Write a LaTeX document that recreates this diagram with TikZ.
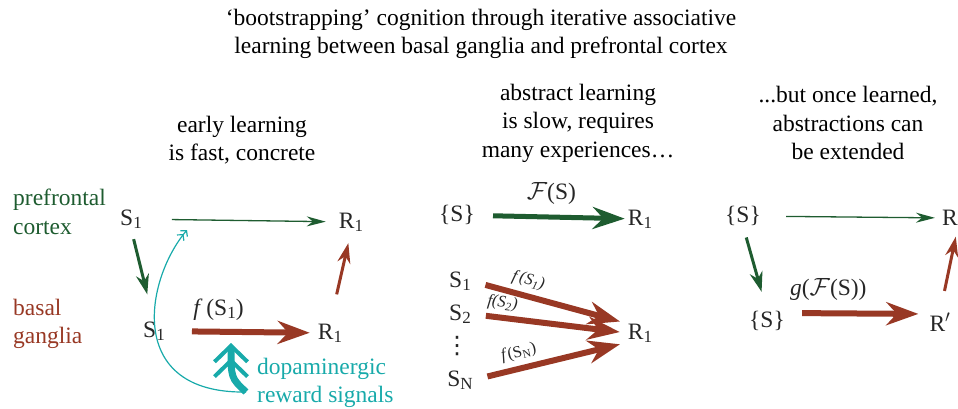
\documentclass[tikz,border=0pt]{standalone}
\usepackage{fontspec}
\setmainfont{Liberation Serif}
\newfontfamily\symfont{DejaVu Sans}
\usetikzlibrary{arrows.meta}
\usetikzlibrary{scopes}

\definecolor{pfcgreen}{RGB}{30,92,48}
\definecolor{bgred}{RGB}{152,56,36}
\definecolor{dacyan}{RGB}{24,170,170}

\newcommand{\sub}[1]{\raisebox{-3pt}{\fontsize{17}{17}\selectfont #1}}

\tikzset{
	txt/.style={align=center, inner sep=0pt, font=\fontsize{23.5}{28.5}\selectfont},
	lbl/.style={inner sep=0pt, text=black!85, font=\fontsize{23.5}{28.5}\selectfont},
	fnlbl/.style={inner sep=0pt, sloped, above, text=black!85, font=\fontsize{16.5}{18}\selectfont},
	pfcthin/.style={draw=pfcgreen, line width=1.3pt, -{Stealth[length=19pt,width=10pt]}},
	pfcmid/.style={draw=pfcgreen, line width=3pt, -{Stealth[length=20pt,width=13pt]}},
	pfcthick/.style={draw=pfcgreen, line width=5pt, -{Stealth[length=32pt,width=22pt]}},
	bgmid/.style={draw=bgred, line width=3pt, -{Stealth[length=20pt,width=13pt]}},
	bgthick/.style={draw=bgred, line width=6pt, -{Stealth[length=32pt,width=23pt]}},
	dathin/.style={draw=dacyan, line width=1.2pt, -{Straight Barb[length=4pt,width=9pt]Straight Barb[length=4pt,width=9pt]}},
	dathick/.style={draw=dacyan, line width=7pt, -{Straight Barb[length=16pt,width=33pt,line width=4pt,sep=-6pt]Straight Barb[length=16pt,width=33pt,line width=4pt]}}
}

\begin{document}
\begin{tikzpicture}[x=1pt,y=-1pt]
	\useasboundingbox (0,0) rectangle (958,409);
	%% headings
	\node[txt] (title) at (481,34) {‘bootstrapping’ cognition through iterative associative\\learning between basal ganglia and prefrontal cortex};
	\node[txt] (hdA) at (242,140) {early learning\\is fast, concrete};
	\node[txt] (hdB) at (578,123) {abstract learning\\is slow, requires\\many experiences…};
	\node[txt] (hdC) at (848,123) {...but once learned,\\abstractions can\\be extended};
	\node[txt, align=left, anchor=west, text=pfcgreen] (pfc) at (13,212) {prefrontal\\cortex};
	\node[txt, align=left, anchor=west, text=bgred] (bg) at (13,324) {basal\\ganglia};

	%% early learning
	\node[lbl] (sA) at (131,219) {S\sub{1}};
	\node[lbl] (rA) at (351,222) {R\sub{1}};
	\node[lbl] (sB) at (154,331) {S\sub{1}};
	\node[lbl] (rB) at (330,333) {R\sub{1}};
	\draw[pfcthin, shorten <=30pt, shorten >=13pt] (sA) -- (rA);
	\draw[pfcmid, shorten <=11pt, shorten >=28pt] (sA.south) -- (sB.north);
	\draw[bgthick, shorten <=27pt, shorten >=8pt] (sB) -- (rB)
		node[pos=0.35, above=5pt, text=black!85, font=\fontsize{23.5}{28}\selectfont] (fA) {\textit{f}\,(S\sub{1})};
	\draw[bgmid, shorten <=30pt, shorten >=12pt] (rB.north) -- (rA.south);
	%% reward signal
	\coordinate (dsrc) at (246,392);
	\coordinate (dtip) at (231,343);
	\coordinate (plast) at (187,230);
	\draw[dathin] (dsrc) .. controls (125,394) and (145,280) .. (plast);
	\draw[dathick] (dsrc) .. controls (231,378) .. (dtip);
	\node[txt, align=left, anchor=west, text=dacyan] (dopa) at (257,383) {dopaminergic\\reward signals};

	%% abstract learning
	\node[lbl] (setA) at (457,215) {\{S\}};
	\node[lbl] (rC) at (640,219) {R\sub{1}};
	\draw[pfcthick, shorten <=18pt, shorten >=3pt] (setA) -- (rC)
		node[midway, above=7pt, text=black!85, font=\fontsize{23.5}{28}\selectfont] (FA) {$\mathcal{F}$(S)};
	\node[lbl] (sC) at (460,281) {S\sub{1}};
	\node[lbl] (sD) at (460,314) {S\sub{2}};
	\node[lbl, font=\symfont\fontsize{24}{24}\selectfont] (dots) at (457,346) {⋮};
	\node[lbl] (sN) at (460,380) {S\sub{N}};
	\node[lbl] (rD) at (640,333) {R\sub{1}};
	\draw[bgthick, shorten <=15pt, shorten >=8pt] (sC.east) -- (rD.north west)
		node[fnlbl, pos=0.34, above=5pt] (fC) {\textit{f\,(S\textsubscript{1})}};
	\draw[bgthick, shorten <=15pt, shorten >=8pt] (sD.east) -- (rD.west)
		node[fnlbl, pos=0.19, above=4pt] (fD) {\textit{f(S\textsubscript{2})}};
	\draw[bgthick, shorten <=15pt, shorten >=8pt] (sN.east) -- (rD.south west)
		node[fnlbl, pos=0.32, above=5pt] (fN) {\textit{f}(S\textsubscript{N})};

	%% extended abstraction
	\node[lbl] (setB) at (743,216) {\{S\}};
	\node[lbl] (rE) at (950,218) {R};
	\node[lbl] (setC) at (767,321) {\{S\}};
	\node[lbl] (rF) at (940,322) {R$'$};
	\draw[pfcthin, shorten <=25pt, shorten >=7pt] (setB) -- (rE);
	\draw[pfcmid, shorten <=12pt, shorten >=20pt] (setB.south) -- (setC.north);
	\draw[bgthick, shorten <=17pt, shorten >=11pt] ([yshift=8pt]setC.east) -- ([yshift=8pt]rF.west)
		node[pos=0.3, above=6pt, text=black!85, font=\fontsize{23.5}{28}\selectfont] (gF) {\textit{g}($\mathcal{F}$(S))};
	\draw[bgmid, shorten <=22pt, shorten >=11pt] (rF.north) -- (rE.south east);
\end{tikzpicture}
\end{document}
